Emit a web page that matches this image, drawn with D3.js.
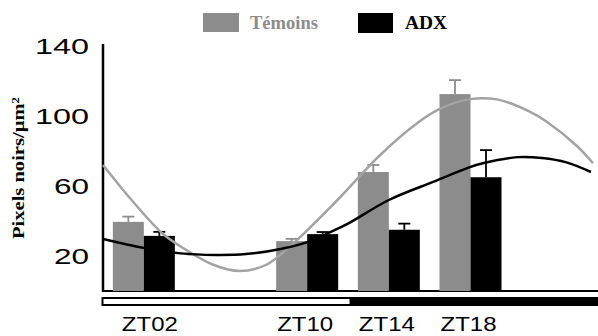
<!DOCTYPE html>
<html>
<head>
<meta charset="utf-8">
<script src="https://cdn.jsdelivr.net/npm/d3@7"></script>
<style>
  body { margin: 0; background: #fff; }
  svg { display: block; }
</style>
</head>
<body>
<div id="chart"></div>
<script>
// time points (ZT hours) and their labels
var hours = [2, 10, 14, 18];
var labels = ["ZT02", "ZT10", "ZT14", "ZT18"];

// bar means and upper error (SEM)
var temoins = [39.5, 28.5, 68, 112.5];
var temoinsErr = [3, 1.3, 4, 8];
var adx = [31.5, 32.5, 35, 65];
var adxErr = [2.3, 1.2, 3.5, 15.5];

// fitted curves at a few hours
var temoinsFitH = [0, 1.4, 2.9, 4.0, 5.4, 6.7, 8.0, 9.3, 11.4, 13.6, 15.4, 16.4, 17.9, 19.3, 20.9, 21.7, 23.2, 24];
var temoinsFitV = [72, 52, 33, 24, 15, 11.4, 15, 27, 51, 78, 96, 103.5, 109.5, 109.5, 102.5, 97, 83, 73];
var adxFitH = [0, 2.0, 3.8, 5.5, 7.0, 8.7, 10.3, 11.1, 12.0, 14.0, 16.2, 17.9, 18.6, 20.3, 21.5, 22.7, 23.9];
var adxFitV = [29.7, 24.6, 21.5, 20.6, 21.1, 24, 29.1, 33.5, 38.5, 52, 62.5, 70.5, 73, 76.5, 76, 73.5, 68];

var yTicks = [20, 60, 100, 140];

var width = 598,
    height = 336;

var grey = "#8c8c8c",
    greyLine = "#a3a3a3";

var svg = d3.select("#chart").append("svg")
    .attr("width", width)
    .attr("height", height);

var x = d3.scaleLinear().domain([0, 24]).range([103, 593]);
var y = d3.scaleLinear().domain([0, 140]).range([291, 46]);
var barW = 31;

// legend
svg.append("rect").attr("x", 203).attr("y", 13).attr("width", 36).attr("height", 19).attr("fill", grey);
svg.append("text").attr("x", 250).attr("y", 29)
    .attr("font-family", "Liberation Serif, serif").attr("font-weight", "bold")
    .attr("font-size", 18).attr("fill", grey)
    .attr("textLength", 68).attr("lengthAdjust", "spacingAndGlyphs")
    .text("Témoins");
svg.append("rect").attr("x", 358).attr("y", 13).attr("width", 35).attr("height", 20).attr("fill", "#000");
svg.append("text").attr("x", 405).attr("y", 29)
    .attr("font-family", "Liberation Serif, serif").attr("font-weight", "bold")
    .attr("font-size", 18).attr("fill", "#000")
    .attr("textLength", 42).attr("lengthAdjust", "spacingAndGlyphs")
    .text("ADX");

// y axis
var yAxis = svg.append("g")
    .attr("transform", "translate(" + x(0) + ",0)")
    .call(d3.axisLeft(y).tickValues(yTicks).tickSize(0).tickSizeOuter(0).tickPadding(14));
yAxis.select(".domain").attr("stroke", "#000").attr("stroke-width", 2.5)
    .attr("d", "M0," + (y(0) + 1) + "V44");
yAxis.selectAll("text")
    .attr("font-family", "Liberation Sans, Arial, sans-serif")
    .attr("font-size", 22)
    .attr("fill", "#000")
    .attr("textLength", function(d) { return d >= 100 ? 54 : 35; })
    .attr("lengthAdjust", "spacingAndGlyphs");

var ylab = svg.append("text")
    .attr("transform", "translate(24,168) rotate(-90)")
    .attr("text-anchor", "middle")
    .attr("font-family", "Liberation Serif, serif").attr("font-weight", "bold")
    .attr("font-size", 16)
    .attr("textLength", 142).attr("lengthAdjust", "spacingAndGlyphs");
ylab.append("tspan").text("Pixels noirs/µm");
ylab.append("tspan").attr("baseline-shift", "super").attr("font-size", 10).text("2");

// baseline
svg.append("line")
    .attr("x1", x(0)).attr("x2", width)
    .attr("y1", y(0)).attr("y2", y(0))
    .attr("stroke", "#000").attr("stroke-width", 2);

// light / dark bar
svg.append("rect")
    .attr("x", x(12)).attr("y", 297).attr("width", width - x(12)).attr("height", 9)
    .attr("fill", "#000");
svg.append("rect")
    .attr("x", x(0) - 0.5).attr("y", 298).attr("width", x(12) - x(0) + 3).attr("height", 7)
    .attr("fill", "#fff").attr("stroke", "#000").attr("stroke-width", 2);

// bars
var idx = d3.range(hours.length);

svg.selectAll("rect.temoins")
    .data(idx).enter().append("rect")
    .attr("class", "temoins")
    .attr("x", function(i) { return x(hours[i]) - barW; })
    .attr("y", function(i) { return y(temoins[i]); })
    .attr("width", barW)
    .attr("height", function(i) { return y(0) - y(temoins[i]); })
    .attr("fill", grey);

svg.selectAll("rect.adx")
    .data(idx).enter().append("rect")
    .attr("class", "adx")
    .attr("x", function(i) { return x(hours[i]); })
    .attr("y", function(i) { return y(adx[i]); })
    .attr("width", barW)
    .attr("height", function(i) { return y(0) - y(adx[i]); })
    .attr("fill", "#000");

// upper error bars
function errBars(vals, errs, offset, colour) {
    var g = svg.append("g").attr("stroke", colour).attr("stroke-width", 1.8);
    idx.forEach(function(i) {
        var cx = x(hours[i]) + offset;
        g.append("line").attr("x1", cx).attr("x2", cx)
            .attr("y1", y(vals[i])).attr("y2", y(vals[i] + errs[i]));
        g.append("line").attr("x1", cx - 6).attr("x2", cx + 6)
            .attr("y1", y(vals[i] + errs[i])).attr("y2", y(vals[i] + errs[i]));
    });
}
errBars(temoins, temoinsErr, -barW / 2, grey);
errBars(adx, adxErr, barW / 2, "#000");

// fitted curves
var line = d3.line()
    .x(function(d) { return x(d[0]); })
    .y(function(d) { return y(d[1]); })
    .curve(d3.curveCatmullRom.alpha(0.5));

svg.append("path")
    .datum(d3.zip(temoinsFitH, temoinsFitV))
    .attr("d", line)
    .attr("fill", "none").attr("stroke", greyLine).attr("stroke-width", 2.5);

svg.append("path")
    .datum(d3.zip(adxFitH, adxFitV))
    .attr("d", line)
    .attr("fill", "none").attr("stroke", "#000").attr("stroke-width", 2.5);

// x labels
svg.selectAll("text.zt")
    .data(idx).enter().append("text")
    .attr("class", "zt")
    .attr("x", function(i) { return x(hours[i]) + (i === 0 ? 6 : -2); })
    .attr("y", 331)
    .attr("text-anchor", "middle")
    .attr("font-family", "Liberation Sans, Arial, sans-serif")
    .attr("font-size", 20)
    .attr("textLength", 56).attr("lengthAdjust", "spacingAndGlyphs")
    .text(function(i) { return labels[i]; });
</script>
</body>
</html>
